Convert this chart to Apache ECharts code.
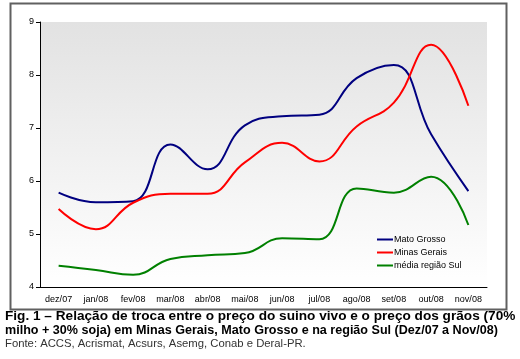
<!DOCTYPE html>
<html><head><meta charset="utf-8">
<script src="https://cdn.jsdelivr.net/npm/echarts@6/dist/echarts.min.js"></script>
<style>html,body{margin:0;padding:0;background:#fff}#c{width:520px;height:359px}</style>
</head><body><div id="c"></div>
<script>
const categories = ["dez/07","jan/08","fev/08","mar/08","abr/08","mai/08","jun/08","jul/08","ago/08","set/08","out/08","nov/08"];
const matoGrosso = [5.78, 5.60, 5.62, 6.69, 6.22, 7.05, 7.22, 7.25, 7.94, 8.19, 6.88, 5.81];
const minasGerais = [5.47, 5.09, 5.59, 5.76, 5.76, 6.35, 6.72, 6.37, 7.03, 7.48, 8.57, 7.42];
const regiaoSul = [4.40, 4.32, 4.23, 4.53, 4.60, 4.64, 4.92, 4.90, 5.86, 5.78, 6.08, 5.17];
const yTicks = [4, 5, 6, 7, 8, 9];
const seriesNames = ["Mato Grosso", "Minas Gerais", "média região Sul"];

const chart = echarts.init(document.getElementById('c'), null, {renderer:'canvas'});
const FONT = '"Liberation Sans", Arial, sans-serif';
chart.setOption({
  animation: false,
  textStyle: {fontFamily: FONT},
  grid: {left: 40, top: 22, right: 33, bottom: 72, show: true, borderWidth: 0,
    backgroundColor: new echarts.graphic.LinearGradient(0,0,0,1,[{offset:0,color:'#e2e2e2'},{offset:1,color:'#ffffff'}])},
  xAxis: {type:'category', data: categories, boundaryGap: true,
    axisLine:{lineStyle:{color:'#000',width:1}},
    axisTick:{length:5, lineStyle:{color:'#000'}},
    axisLabel:{fontSize:9, color:'#000', margin:8, fontFamily: FONT}},
  yAxis: {type:'value', min: yTicks[0], max: yTicks[yTicks.length-1], interval:1,
    axisLine:{show:true, lineStyle:{color:'#000',width:1}},
    axisTick:{show:true, length:4, lineStyle:{color:'#000'}},
    splitLine:{show:false},
    axisLabel:{fontSize:9, color:'#000', margin:6, fontFamily: FONT}},
  legend: {orient:'vertical', left: 377, top: 235, padding: 0, itemWidth: 16, itemHeight: 2, itemGap: 4,
    icon: 'rect', textStyle:{fontSize:9, color:'#000', fontFamily: FONT, padding:[0,0,0,-4]},
    data: seriesNames},
  series: [
    {name: seriesNames[0], type:'line', data: matoGrosso, smooth: 0.45, showSymbol:false, symbol:'none', lineStyle:{color:'#000080', width:2}, itemStyle:{color:'#000080'}},
    {name: seriesNames[1], type:'line', data: minasGerais, smooth: 0.45, showSymbol:false, symbol:'none', lineStyle:{color:'#ff0000', width:2}, itemStyle:{color:'#ff0000'}},
    {name: seriesNames[2], type:'line', data: regiaoSul, smooth: 0.45, showSymbol:false, symbol:'none', lineStyle:{color:'#008000', width:2}, itemStyle:{color:'#008000'}}
  ],
  graphic: [
    {type:'rect', left: 8, top: 1, shape:{width: 496, height: 306}, style:{fill:'none', stroke:'#606060', lineWidth: 2}, silent:true},
    {type:'text', x: 5, y: 310, scaleX: 1.09, style:{text:'Fig. 1 – Relação de troca entre o preço do suino vivo e o preço dos grãos (70%', font:'bold 12.5px "Liberation Sans", Arial, sans-serif', fill:'#000'}},
    {type:'text', x: 5, y: 324, scaleX: 1.006, style:{text:'milho + 30% soja) em Minas Gerais, Mato Grosso e na região Sul (Dez/07 a Nov/08)', font:'bold 12.5px "Liberation Sans", Arial, sans-serif', fill:'#000'}},
    {type:'text', x: 5, y: 338, style:{text:'Fonte: ACCS, Acrismat, Acsurs, Asemg, Conab e Deral-PR.', font:'11.3px "Liberation Sans", Arial, sans-serif', fill:'#333'}}
  ]
});
</script></body></html>
